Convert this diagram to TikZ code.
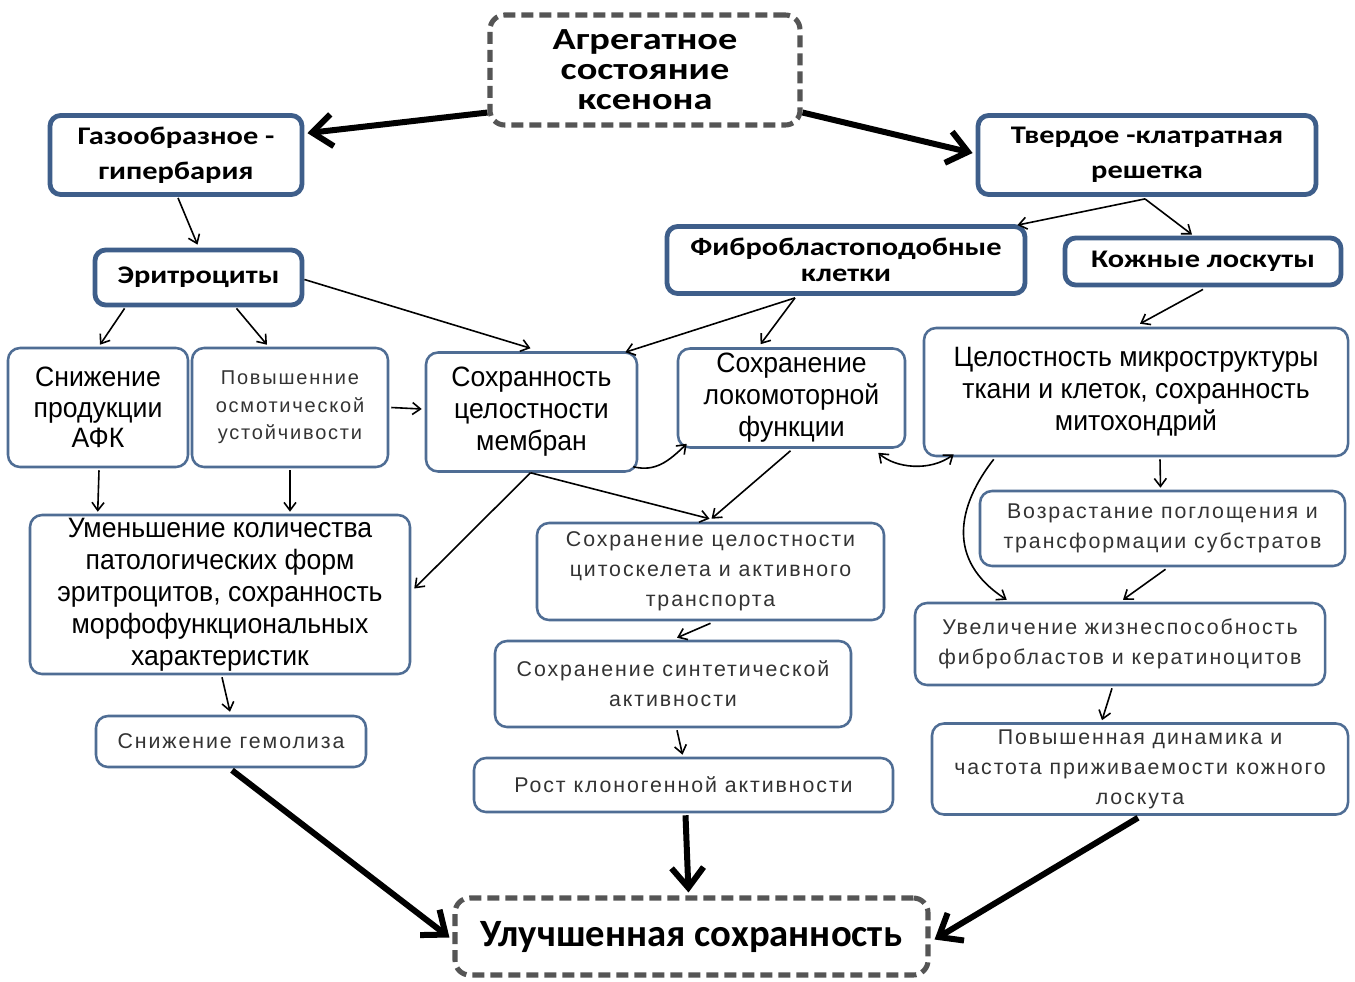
\documentclass[tikz,border=0pt]{standalone}
\usepackage{fontspec}
\setmainfont{Liberation Sans}
\newfontfamily\hdfont[FakeStretch=1.2]{Carlito}
\newfontfamily\topfont[FakeStretch=1.25]{Carlito}
\newfontfamily\resfont{Carlito}
\newfontfamily\mdfont[FakeStretch=0.95]{Liberation Sans}
\newfontfamily\ltfont[LetterSpace=9]{Liberation Sans}
\usetikzlibrary{arrows.meta,calc}
\definecolor{bthin}{HTML}{4F6D94}
\definecolor{bthick}{HTML}{3E5E8A}
\definecolor{dgray}{HTML}{555555}
\definecolor{ltxt}{HTML}{333333}
\tikzset{
  sz/.style 2 args={minimum width=#1*0.75pt, minimum height=#2*0.75pt},
  thinbox/.style={draw=bthin, line width=1.9pt, rounded corners=9pt, fill=white, inner sep=0pt, align=center},
  thickbox/.style={draw=bthick, line width=3.6pt, rounded corners=8pt, fill=white, inner sep=0pt, align=center},
  dashbox/.style={draw=dgray, line width=3.8pt, dash pattern=on 9pt off 4.5pt, rounded corners=11pt, fill=white, inner sep=0pt, align=center},
  hd/.style={font=\hdfont\bfseries\fontsize{19}{26}\selectfont},
  md/.style={font=\mdfont\fontsize{21}{24}\selectfont},
  lt/.style={font=\ltfont\fontsize{16}{22.5}\selectfont, text=ltxt},
  arr/.style={line width=1.2pt, -{Straight Barb[length=6pt,width=9pt]}},
  darr/.style={line width=1.2pt, {Straight Barb[length=6pt,width=9pt]}-{Straight Barb[length=6pt,width=9pt]}},
  bigarr/.style={line width=4.5pt, -{Straight Barb[length=15pt,width=24pt]}},
}
\begin{document}
\begin{tikzpicture}[x=0.75pt,y=-0.75pt]
\useasboundingbox[fill=white] (0,0) rectangle (1355,981);
% nodes
\node[dashbox, sz={310}{110}, font=\topfont\bfseries\fontsize{23}{22.5}\selectfont] (top) at (645,70) {Агрегатное\\состояние\\ксенона};
\node[thickbox, hd, sz={252}{79}] (gas) at (176,155) {Газообразное -\\гипербария};
\node[thickbox, hd, sz={338}{79}] (tv) at (1147,155) {Твердое -клатратная\\решетка};
\node[thickbox, hd, sz={207}{55}] (eri) at (198.5,277.5) {Эритроциты};
\node[thickbox, sz={358}{67}, font=\hdfont\bfseries\fontsize{19}{19.5}\selectfont] (fib) at (846,260) {Фибробластоподобные\\клетки};
\node[thickbox, hd, sz={276}{47}] (kozh) at (1203,261.5) {Кожные лоскуты};
\node[thinbox, sz={180}{119}, font=\mdfont\fontsize{21}{23}\selectfont] (afk) at (98,407.5) {Снижение\\продукции\\АФК};
\node[thinbox, sz={196}{119}, text=ltxt, font=\ltfont\fontsize{15}{20.5}\selectfont] (osm) at (290,407.5) {Повышенние\\осмотической\\устойчивости};
\node[thinbox, md, sz={211}{119}] (mem) at (531.5,412) {Сохранность\\целостности\\мембран};
\node[thinbox, md, sz={227}{99}] (lok) at (791.5,398) {Сохранение\\локомоторной\\функции};
\node[thinbox, md, sz={424}{128}] (cel) at (1136,392) {Целостность микроструктуры\\ткани и клеток, сохранность\\митохондрий};
\node[thinbox, md, sz={380}{159}] (umen) at (220,594.5) {Уменьшение количества\\патологических форм\\эритроцитов, сохранность\\морфофункциональных\\характеристик};
\node[thinbox, lt, sz={347}{97}] (cito) at (710.5,571.5) {Сохранение целостности\\цитоскелета и активного\\транспорта};
\node[thinbox, lt, sz={365}{75}] (voz) at (1162.5,528.5) {Возрастание поглощения и\\трансформации субстратов};
\node[thinbox, lt, sz={356}{86}] (sint) at (673,684) {Сохранение синтетической\\активности};
\node[thinbox, lt, sz={410}{82}] (uvel) at (1120,644) {Увеличение жизнеспособность\\фибробластов и кератиноцитов};
\node[thinbox, lt, sz={270}{51}] (gem) at (231,741.5) {Снижение гемолиза};
\node[thinbox, lt, sz={419}{54}] (rost) at (683.5,785) {Рост клоногенной активности};
\node[thinbox, lt, sz={416}{91}] (din) at (1140,769) {Повышенная динамика и\\частота приживаемости кожного\\лоскута};
\node[dashbox, sz={473}{77}, font=\resfont\bfseries\fontsize{29}{30}\selectfont] (res) at (691.5,936.5) {Улучшенная сохранность};
% connectors
\draw[bigarr] ($(top.south west)+(0,-15)$) -- ($(gas.north east)+(3,20)$);
\draw[bigarr] ($(top.south east)+(0,-15)$) -- ($(tv.west)+(-3,-2)$);
\draw[arr] ($(gas.south)+(2,1)$) -- ($(eri.north)+(-1,-3)$);
\draw[arr] ($(eri.south west)+(32,1)$) -- ($(afk.north)+(2,-2)$);
\draw[arr] ($(eri.south)+(38,1)$) -- ($(osm.north)+(-23,-2)$);
\draw[arr] ($(eri.east)+(0,2)$) -- ($(mem.north)+(-1,-3)$);
\draw[arr] ($(osm.east)+(2,0)$) -- ($(mem.west)+(-3,-3)$);
\coordinate (tvs) at ($(tv.south)+(-2,2)$);
\draw[arr] (tvs) -- ($(fib.north east)+(-10,1)$);
\draw[arr] (tvs) -- ($(kozh.north)+(-11,-1)$);
\coordinate (fibs) at ($(fib.south)+(-51,2)$);
\draw[arr] (fibs) -- ($(mem.north east)+(-13,1)$);
\draw[arr] (fibs) -- ($(lok.north)+(-31,-3)$);
\draw[arr] ($(kozh.south)+(0,2)$) -- ($(cel.north)+(4,-3)$);
\draw[arr] ($(mem.south east)+(-5,-6)$) .. controls (655,472) and (668,462) .. ($(lok.south west)+(10,-5)$);
\draw[darr] ($(lok.south east)+(-28,4)$) .. controls (895,468) and (930,472) .. ($(cel.south west)+(31,-3)$);
\draw[arr] ($(lok.south)+(-1,2)$) -- ($(cito.north)+(1,-3)$);
\coordinate (mems) at ($(mem.south)+(-1,0)$);
\draw[arr] (mems) -- ($(umen.east)+(3,-6)$);
\draw[arr] (mems) -- ($(cito.north)+(-1,-3)$);
\draw[arr] ($(afk.south)+(1,2)$) -- ($(umen.north west)+(69,-2)$);
\draw[arr] ($(osm.south)+(0,2)$) -- ($(umen.north)+(70,-2)$);
\draw[arr] ($(umen.south)+(2,2)$) -- ($(gem.north)+(-1,-3)$);
\draw[arr] ($(cito.south)+(0,2)$) -- ($(sint.north)+(4,-2)$);
\draw[arr] ($(sint.south)+(4,2)$) -- ($(rost.north)+(-1,-2)$);
\draw[arr] ($(cel.south)+(24,2)$) -- ($(voz.north)+(-2,-2)$);
\draw[arr] ($(cel.south west)+(71,2)$) .. controls (958,505) and (945,560) .. ($(uvel.north west)+(93,-2)$);
\draw[arr] ($(voz.south)+(3,2)$) -- ($(uvel.north)+(3,-2)$);
\draw[arr] ($(uvel.south)+(-8,2)$) -- ($(din.north)+(-38,-2)$);
\draw[bigarr] ($(gem.south)+(1,2)$) -- ($(res.west)+(-3,1)$);
\draw[bigarr] ($(rost.south)+(2,2)$) -- ($(res.north)+(-3,-3)$);
\draw[bigarr] ($(din.south)+(-2,2)$) -- ($(res.east)+(4,3)$);
\end{tikzpicture}
\end{document}
